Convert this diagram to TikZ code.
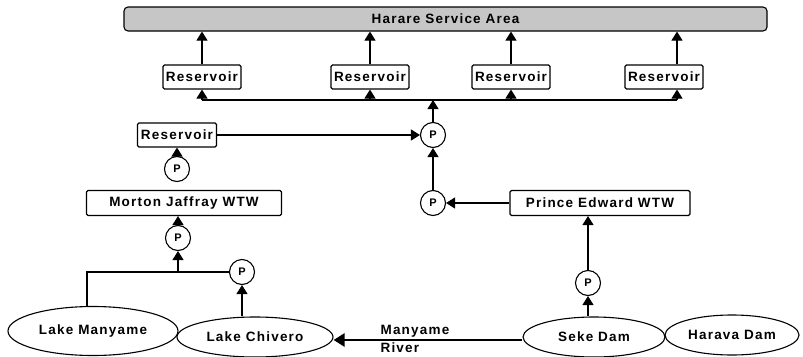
\documentclass[tikz,border=0pt]{standalone}
\usepackage{fontspec}
\setmainfont{Liberation Sans}
\newfontfamily\lblfont{Liberation Sans}[LetterSpace=9]
\usetikzlibrary{shapes.geometric,arrows.meta}
\begin{document}
\begin{tikzpicture}[x=1pt,y=-1pt,
  line width=1.1pt,
  every node/.style={font=\lblfont\bfseries\fontsize{13.5}{15}\selectfont, inner sep=0pt},
  box/.style={draw, rectangle, rounded corners=1.5pt, minimum height=24pt},
  resbox/.style={box, minimum width=78pt},
  lake/.style={draw, ellipse},
  pump/.style={draw, circle, minimum size=25pt, font=\lblfont\bfseries\fontsize{11}{12}\selectfont},
  arr/.style={-{Triangle[width=11pt,length=9pt]}},
  river/.style={line width=2.6pt, -{Triangle[width=13pt,length=11pt]}}]
\useasboundingbox (0,0) rectangle (803,356);

% service area bar
\node[draw, rectangle, rounded corners=4pt, fill=gray!45, minimum width=643pt, minimum height=24pt] (bar) at (445.5,19) {Harare Service Area};

% distribution reservoirs
\node[resbox] (res1) at (202,77) {Reservoir};
\node[resbox] (res2) at (370,77) {Reservoir};
\node[resbox] (res3) at (511,77) {Reservoir};
\node[resbox] (res4) at (664,77) {Reservoir};

% distribution main
\coordinate (j1) at (202,100);
\coordinate (j2) at (370,100);
\coordinate (j3) at (511,100);
\coordinate (j4) at (677,100);
\coordinate (jm) at (433,100);
\draw (j1) -- (j4);
\draw[arr] (j1) -- (res1.south);
\draw[arr] (j2) -- (res2.south);
\draw[arr] (j3) -- (res3.south);
\draw[arr] (j4) -- (j4 |- res4.south);
\draw[arr] (res1.north) -- (res1.north |- bar.south);
\draw[arr] (res2.north) -- (res2.north |- bar.south);
\draw[arr] (res3.north) -- (res3.north |- bar.south);
\draw[arr] (j4 |- res4.north) -- (j4 |- bar.south);

% booster pump and Morton Jaffray branch
\node[pump] (pT) at (433,135) {P};
\node[resbox, minimum width=79pt] (res5) at (177,135) {Reservoir};
\node[pump] (pR) at (177,169) {P};
\node[box, minimum width=195pt, minimum height=25pt] (mj) at (184,203) {Morton Jaffray WTW};
\node[pump] (pA) at (178,238) {P};
\node[pump] (pB) at (242,272) {P};
\coordinate (jn) at (178,272);

\draw[arr] (pT.north) -- (jm);
\draw[arr] (res5.east) -- (pT.west);
\draw[arr] (pR.north) -- (res5.south -| pR.north);
\draw[arr] (pA.north) -- (pA.north |- mj.south);
\draw[arr] (jn) -- (pA.south);

% Prince Edward branch
\node[box, minimum width=180pt, minimum height=25pt] (pe) at (600,203) {Prince Edward WTW};
\node[pump] (pE) at (433,203) {P};
\node[pump] (pS) at (588,283) {P};
\draw[arr] (pe.west) -- (pE.east);
\draw[arr] (pE.north) -- (pT.south);
\draw[arr] (pS.north) -- (pS.north |- pe.south);

% sources
\node[lake, minimum width=170pt, minimum height=49pt] (manyame) at (93,331) {Lake Manyame};
\node[lake, minimum width=156pt, minimum height=40pt] (chivero) at (255,337) {Lake Chivero};
\node[lake, minimum width=142pt, minimum height=40pt] (seke) at (594,337) {Seke Dam};
\node[lake, minimum width=134pt, minimum height=40pt] (harava) at (732,335) {Harava Dam};

\draw (manyame.north -| 87,0) |- (pB.west);
\draw[arr] (pB.south |- chivero.north) -- (pB.south);
\draw[arr] (pS.south |- seke.north) -- (pS.south);

% river link
\draw[river] ([yshift=-3pt]seke.west) -- ([yshift=-3pt]chivero.east);
\node[anchor=south west] (rivtop) at (380,338) {Manyame};
\node[anchor=north west] (rivbot) at (380,342) {River};
\end{tikzpicture}
\end{document}
